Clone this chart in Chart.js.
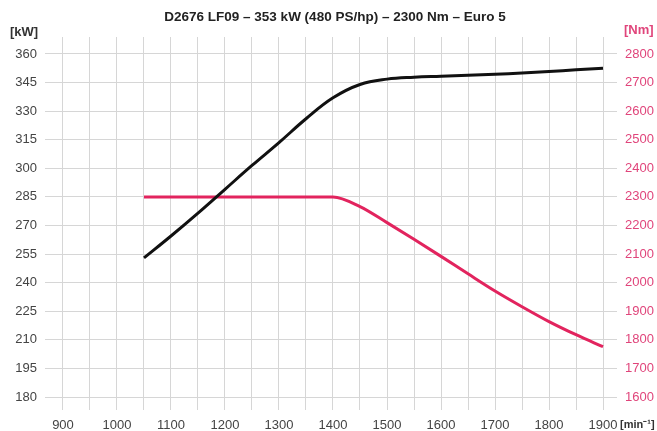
<!DOCTYPE html>
<html>
<head>
<meta charset="utf-8">
<script src="https://cdn.jsdelivr.net/npm/chart.js@4"></script>
<style>
  html, body { margin: 0; padding: 0; background: #fff; }
  #wrap { width: 657px; height: 431px; }
</style>
</head>
<body>
<div id="wrap"><canvas id="engineChart" width="657" height="431"></canvas></div>
<script>
const titleText = 'D2676 LF09 – 353 kW (480 PS/hp) – 2300 Nm – Euro 5';

const rpm = [1050, 1100, 1150, 1200, 1250, 1300, 1350, 1400, 1450, 1500, 1550, 1600, 1650, 1700, 1750, 1800, 1850, 1900];
const powerKw = [253, 264.5, 276.5, 289, 301.5, 313.5, 326, 337, 344, 346.8, 347.8, 348.3, 348.8, 349.3, 350, 350.8, 351.7, 352.5];
const torqueNm = [2300, 2300, 2300, 2300, 2300, 2300, 2300, 2300, 2266, 2210, 2152, 2092, 2031, 1971, 1916, 1864, 1818, 1776];

const rpmTicks = [900, 950, 1000, 1050, 1100, 1150, 1200, 1250, 1300, 1350, 1400, 1450, 1500, 1550, 1600, 1650, 1700, 1750, 1800, 1850, 1900];
const kwTicks = [180, 195, 210, 225, 240, 255, 270, 285, 300, 315, 330, 345, 360];
const nmTicks = [1600, 1700, 1800, 1900, 2000, 2100, 2200, 2300, 2400, 2500, 2600, 2700, 2800];

const pink = '#e0457b';
const labelFont = { family: 'Liberation Sans', size: 13 };

// title and unit labels drawn on top
const overlayText = {
    id: 'overlayText',
    afterDraw(chart) {
        const ctx = chart.ctx;
        ctx.save();
        ctx.textBaseline = 'middle';
        ctx.font = 'bold 13.5px "Liberation Sans"';
        ctx.fillStyle = '#222';
        ctx.textAlign = 'center';
        ctx.fillText(titleText, 335, 17);
        ctx.font = 'bold 13px "Liberation Sans"';
        ctx.textAlign = 'left';
        ctx.fillStyle = '#333';
        ctx.fillText('[kW]', 10, 32);
        ctx.fillStyle = pink;
        ctx.fillText('[Nm]', 624, 30);
        ctx.fillStyle = '#333';
        ctx.font = 'bold 11px "Liberation Sans"';
        ctx.fillText('[min⁻¹]', 620, 425);
        ctx.restore();
    }
};

const ctx = document.getElementById('engineChart').getContext('2d');

new Chart(ctx, {
    type: 'line',
    data: {
        datasets: [
            {
                label: 'Power',
                data: rpm.map((r, i) => ({ x: r, y: powerKw[i] })),
                borderColor: '#111',
                borderWidth: 3,
                pointRadius: 0,
                fill: false,
                tension: 0.4,
                yAxisID: 'y'
            },
            {
                label: 'Torque',
                data: rpm.map((r, i) => ({ x: r, y: torqueNm[i] })),
                borderColor: '#e2245e',
                borderWidth: 3,
                pointRadius: 0,
                fill: false,
                cubicInterpolationMode: 'monotone',
                yAxisID: 'y2'
            }
        ]
    },
    options: {
        responsive: false,
        animation: false,
        layout: { padding: { top: 37, left: 0, right: 0, bottom: 0 } },
        scales: {
            x: {
                type: 'linear',
                min: 866.7,
                max: 1925.9,
                afterBuildTicks: scale => { scale.ticks = rpmTicks.map(v => ({ value: v })); },
                afterFit: scale => { scale.height = 21; },
                grid: { color: '#d6d6d6', lineWidth: 1, drawTicks: false },
                border: { display: false },
                ticks: {
                    autoSkip: false,
                    maxRotation: 0,
                    padding: 8,
                    color: '#444',
                    font: labelFont,
                    callback: v => (v % 100 === 0 ? String(v) : '')
                }
            },
            y: {
                position: 'left',
                min: 173.2,
                max: 368.9,
                afterBuildTicks: scale => { scale.ticks = kwTicks.map(v => ({ value: v })); },
                afterFit: scale => { scale.width = 45; },
                grid: { color: '#d6d6d6', lineWidth: 1, drawTicks: false },
                border: { display: false },
                ticks: { padding: 8, color: '#444', font: labelFont }
            },
            y2: {
                position: 'right',
                min: 1554.7,
                max: 2859.3,
                afterBuildTicks: scale => { scale.ticks = nmTicks.map(v => ({ value: v })); },
                afterFit: scale => { scale.width = 40; },
                grid: { display: false, drawTicks: false },
                border: { display: false },
                ticks: { padding: 8, color: pink, font: labelFont, callback: v => String(v) }
            }
        },
        plugins: {
            legend: { display: false },
            tooltip: { enabled: false },
            title: { display: false }
        }
    },
    plugins: [overlayText]
});
</script>
</body>
</html>
